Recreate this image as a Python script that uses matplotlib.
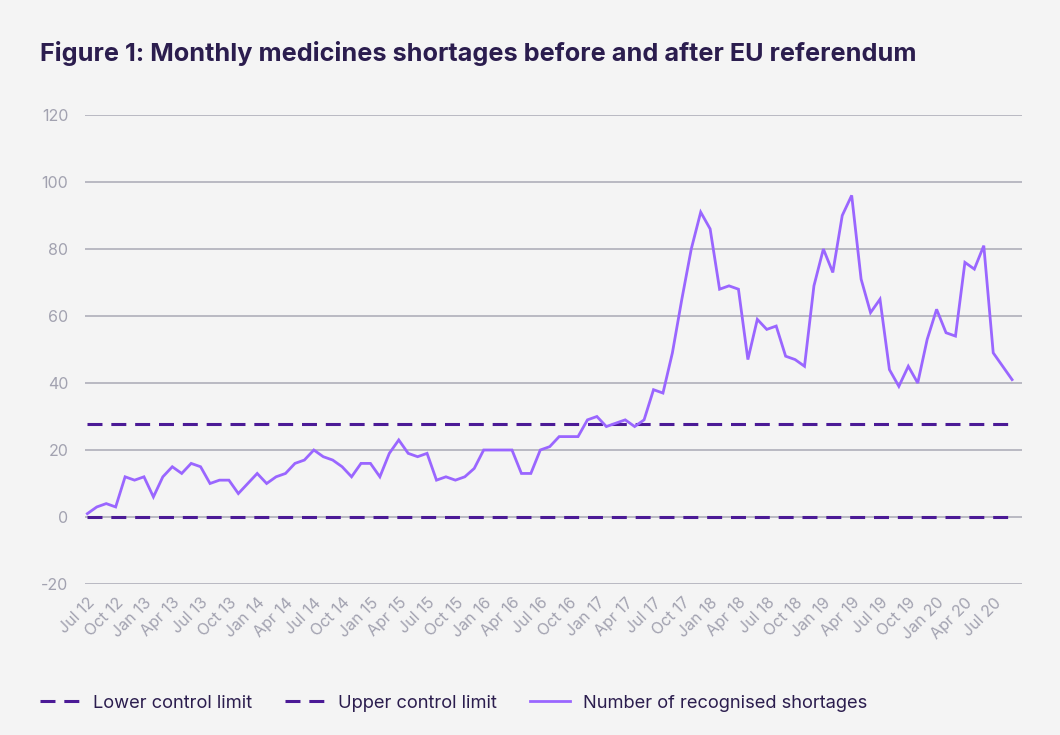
import matplotlib.pyplot as plt
import numpy as np

# ==================== DADOS ====================
# monthly counts, Jul 12 .. Sep 20
shortages = [1, 3, 4, 3, 12, 11, 12, 6, 12, 15, 13, 16, 15, 10, 11, 11, 7, 10,
             13, 10, 12, 13, 16, 17, 20, 18, 17, 15, 12, 16, 16, 12, 19, 23, 19, 18,
             19, 11, 12, 11, 12, 14.5, 20, 20, 20, 20, 13, 13, 20, 21, 24, 24, 24, 29,
             30, 27, 28, 29, 27, 29, 38, 37, 49, 65, 80, 91, 86, 68, 69, 68, 47, 59,
             56, 57, 48, 47, 45, 69, 80, 73, 90, 96, 71, 61, 65, 44, 39, 45, 40, 53,
             62, 55, 54, 76, 74, 81, 49, 45, 41]
lower_limit = 0
upper_limit = 27.7

month_names = ['Jul', 'Oct', 'Jan', 'Apr']
tick_labels = []
yr = 12
for k in range(33):
    m = month_names[k % 4]
    if m == 'Jan':
        yr += 1
    tick_labels.append(f'{m} {yr}')

# ==================== GRAFICO ====================
bg = '#f4f4f4'
line_col = '#9a66ff'
dash_col = '#4b1a96'
text_col = '#2b1d4e'
tick_col = '#a2a2b0'
grid_col = '#a9a9b5'

plt.rcParams['font.family'] = ['Inter', 'DejaVu Sans']
plt.rcParams['axes.unicode_minus'] = False

fig = plt.figure(figsize=(10.6, 7.35), dpi=100, facecolor=bg)
ax = fig.add_axes([85 / 1060, 1 - 584 / 735, (1022 - 85) / 1060, (584 - 115) / 735])
ax.set_facecolor(bg)

x = np.arange(len(shortages))
ax.plot(x, [lower_limit] * len(x), color=dash_col, lw=2.2, ls=(0, (4.9, 2.9)),
        label='Lower control limit', zorder=3)
ax.plot(x, [upper_limit] * len(x), color=dash_col, lw=2.2, ls=(0, (4.9, 2.9)),
        label='Upper control limit', zorder=3)
ax.plot(x, shortages, color=line_col, lw=2.0, label='Number of recognised shortages',
        zorder=4, solid_joinstyle='miter')

ax.set_xlim(-0.25, 99.05)
ax.set_ylim(-20, 120)
ax.set_yticks(range(-20, 121, 20))
ax.yaxis.grid(True, color=grid_col, lw=1.1)
ax.set_axisbelow(True)
for s in ax.spines.values():
    s.set_visible(False)

ax.set_xticks(np.arange(0, 99, 3))
ax.set_xticklabels(tick_labels, rotation=45, ha='right', rotation_mode='anchor')
ax.tick_params(axis='y', length=0, pad=12, labelsize=11.5, labelcolor=tick_col)
ax.tick_params(axis='x', length=0, pad=8, labelsize=11.5, labelcolor=tick_col)

fig.text(40 / 1060, 1 - 53 / 735, 'Figure 1: Monthly medicines shortages before and after EU referendum',
         fontsize=18.2, fontweight='bold', color=text_col, va='center', ha='left')

leg = fig.legend(loc='center left', bbox_to_anchor=(23 / 1060, 1 - 703 / 735), ncol=3,
                 frameon=False, fontsize=13.2, handlelength=2.2, handletextpad=0.7,
                 columnspacing=1.8)
for t in leg.get_texts():
    t.set_color(text_col)

plt.savefig('out.png', dpi=100, facecolor=bg)
